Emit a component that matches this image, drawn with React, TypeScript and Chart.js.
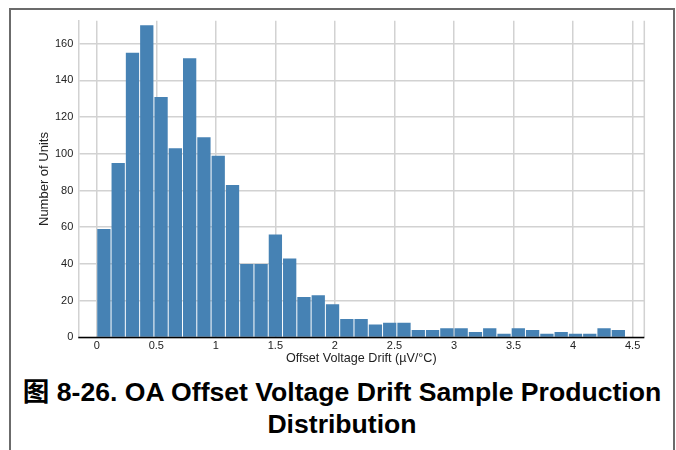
import React, { useEffect, useRef } from 'react';
import { Chart, registerables } from 'chart.js';

Chart.register(...registerables);

// Histogram bins (bin centres, width 0.12 µV/°C) and counts
const binCenters = [
  0.06, 0.18, 0.3, 0.42, 0.54, 0.66, 0.78, 0.9, 1.02, 1.14, 1.26, 1.38, 1.5,
  1.62, 1.74, 1.86, 1.98, 2.1, 2.22, 2.34, 2.46, 2.58, 2.7, 2.82, 2.94, 3.06,
  3.18, 3.3, 3.42, 3.54, 3.66, 3.78, 3.9, 4.02, 4.14, 4.26, 4.38,
];
const unitCounts = [
  59, 95, 155, 170, 131, 103, 152, 109, 99, 83, 40, 40, 56, 43, 22, 23, 18, 10,
  10, 7, 8, 8, 4, 4, 5, 5, 3, 5, 2, 5, 4, 2, 3, 2, 2, 5, 4,
];
const xTickValues = [0, 0.5, 1, 1.5, 2, 2.5, 3, 3.5, 4, 4.5];
const yTickValues = [0, 20, 40, 60, 80, 100, 120, 140, 160];
const xDomain = [-0.155, 4.598];
const yDomain = [0, 172.5];

const xTitle = 'Offset Voltage Drift (µV/°C)';
const yTitle = 'Number of Units';
const captionLine1 = '图 8-26. OA Offset Voltage Drift Sample Production';
const captionLine2 = 'Distribution';

const GRID = '#d2d2d2';
const BAR = '#4682b4';
const TEXT = '#222';
const FONT = "'Liberation Sans', Arial, Helvetica, sans-serif";

const framePlugin = {
  id: 'frameLines',
  beforeDatasetsDraw(chart: any) {
    const { ctx, chartArea } = chart;
    ctx.save();
    ctx.strokeStyle = GRID;
    ctx.lineWidth = 1.5;
    ctx.beginPath();
    ctx.moveTo(chartArea.right, chartArea.top);
    ctx.lineTo(chartArea.right, chartArea.bottom);
    ctx.stroke();
    ctx.restore();
  },
  afterDatasetsDraw(chart: any) {
    const { ctx, chartArea, scales } = chart;
    const y = scales.y.getPixelForValue(0);
    ctx.save();
    ctx.strokeStyle = '#000';
    ctx.lineWidth = 1.5;
    ctx.beginPath();
    ctx.moveTo(chartArea.left, y);
    ctx.lineTo(chartArea.right, y);
    ctx.stroke();
    ctx.restore();
  },
};

export default function App() {
  const canvasRef = useRef<HTMLCanvasElement | null>(null);

  useEffect(() => {
    const canvas = canvasRef.current;
    if (!canvas) return;
    const chart = new Chart(canvas, {
      type: 'bar',
      data: {
        datasets: [
          {
            data: binCenters.map((x, i) => ({ x, y: unitCounts[i] })),
            backgroundColor: BAR,
            borderWidth: 0,
            barPercentage: 0.93,
            categoryPercentage: 1,
          },
        ],
      },
      options: {
        animation: false,
        responsive: false,
        devicePixelRatio: 1,
        layout: { padding: { left: 33, right: 31.7, top: 20.7, bottom: 0 } },
        plugins: {
          legend: { display: false },
          tooltip: { enabled: false },
        },
        scales: {
          x: {
            type: 'linear',
            min: xDomain[0],
            max: xDomain[1],
            offset: false,
            afterBuildTicks: (scale: any) => {
              scale.ticks = xTickValues.map((v) => ({ value: v }));
            },
            afterFit: (scale: any) => {
              scale.height = 372 - 337.4;
            },
            ticks: {
              autoSkip: false,
              maxRotation: 0,
              padding: 2,
              color: TEXT,
              font: { family: FONT, size: 11 },
              callback: (v: any) => String(v),
            },
            grid: {
              offset: false,
              color: GRID,
              lineWidth: 1.5,
              drawTicks: false,
            },
            border: { display: false },
            title: {
              display: true,
              text: xTitle,
              color: TEXT,
              font: { family: FONT, size: 12.6 },
              padding: { top: 0, bottom: 6 },
            },
          },
          y: {
            type: 'linear',
            min: yDomain[0],
            max: yDomain[1],
            afterBuildTicks: (scale: any) => {
              scale.ticks = yTickValues.map((v) => ({ value: v }));
            },
            afterFit: (scale: any) => {
              scale.width = 78.3 - 33;
            },
            ticks: {
              padding: 5,
              color: TEXT,
              font: { family: FONT, size: 11 },
              callback: (v: any) => String(v),
            },
            grid: {
              color: GRID,
              lineWidth: 1.5,
              drawTicks: false,
            },
            border: { display: true, color: GRID, width: 1.5 },
            title: {
              display: true,
              text: yTitle,
              color: TEXT,
              font: { family: FONT, size: 13 },
              padding: { top: 4, bottom: 0 },
            },
          },
        },
      },
      plugins: [framePlugin],
    } as any);
    return () => chart.destroy();
  }, []);

  return (
    <div
      style={{
        position: 'absolute',
        left: 0,
        top: 0,
        width: 676,
        height: 450,
        overflow: 'hidden',
        background: '#fff',
      }}
    >
      <div
        style={{
          position: 'absolute',
          left: 9,
          top: 8,
          width: 662,
          height: 450,
          borderLeft: '2px solid #6b6b6b',
          borderRight: '2px solid #6b6b6b',
          borderTop: '2px solid #6b6b6b',
        }}
      />
      <canvas
        ref={canvasRef}
        width={676}
        height={372}
        style={{ position: 'absolute', left: 0, top: 0, width: 676, height: 372 }}
      />
      <div
        style={{
          position: 'absolute',
          left: 11,
          top: 377,
          width: 662,
          textAlign: 'center',
          fontFamily: "'Liberation Sans', Arial, 'Noto Sans CJK SC', sans-serif",
          fontWeight: 'bold',
          fontSize: 26.6,
          lineHeight: '31.5px',
          color: '#000',
        }}
      >
        <div>{captionLine1}</div>
        <div>{captionLine2}</div>
      </div>
    </div>
  );
}
